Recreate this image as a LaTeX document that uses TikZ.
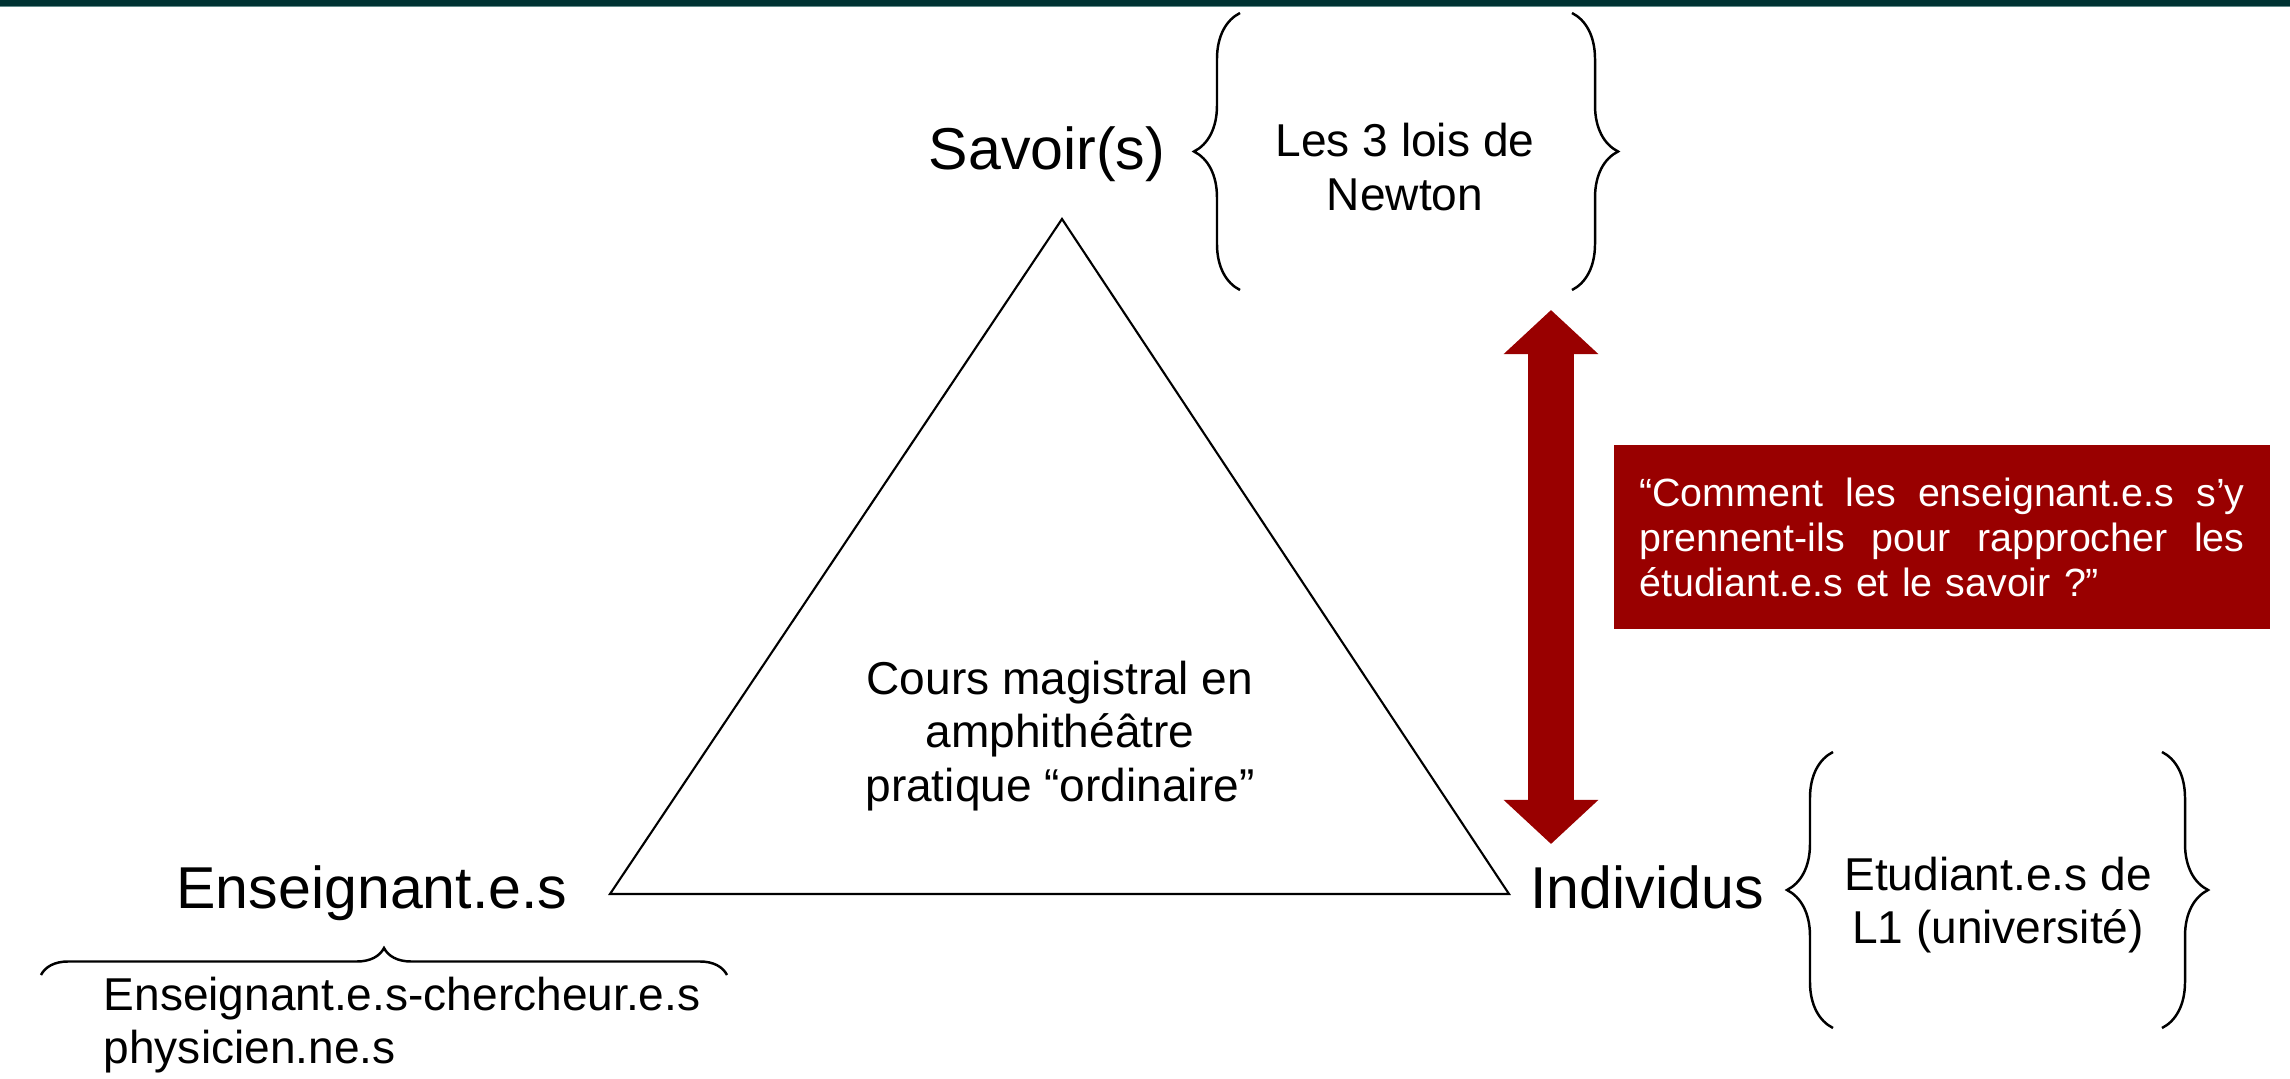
\documentclass[tikz,border=0pt]{standalone}
\usepackage{fontspec}
\setmainfont{Liberation Sans}
\usepackage{xcolor}
\usetikzlibrary{positioning,arrows.meta,decorations.pathreplacing}
\definecolor{barteal}{RGB}{0,51,51}
\definecolor{barline}{RGB}{100,140,140}
\definecolor{darkred}{RGB}{153,0,0}
\newcommand{\polesize}{\fontsize{16.8}{20}\selectfont}
\newcommand{\notesize}{\fontsize{13.1}{15.1}\selectfont}
\newcommand{\asksize}{\fontsize{11.2}{12.8}\selectfont}

\begin{document}
\begin{tikzpicture}[x=0.01cm,y=-0.01cm]
\tikzstyle{every node}+=[inner sep=0pt]
\tikzstyle{pole}=[font=\polesize,anchor=base]
\tikzstyle{note}=[font=\notesize,align=center]
\tikzstyle{vbrc}=[decorate,decoration={brace,amplitude=0.46cm},line width=0.7pt]
\tikzstyle{hbrc}=[decorate,decoration={brace,amplitude=0.27cm},line width=0.7pt]
\path[use as bounding box,fill=white] (0,0) rectangle (2290,1079);
\fill[barteal] (0,0) rectangle (2290,6);
\fill[barline] (0,6) rectangle (2290,7.5);
\coordinate (apex) at (1062,219);
\coordinate (left) at (610,894);
\coordinate (right) at (1509,894);
\draw[line width=0.6pt] (apex) -- (left) -- (right) -- cycle;
\node[pole] (savoir) at (1047,170) {Savoir(s)};
\node[pole] (enseignant) at (372,908) {Enseignant.e.s};
\node[pole] (individus) at (1647,908) {Individus};
\node[note] (newton) at (1405,167) {Les 3 lois de\\Newton};
\node[note] (cours) at (1060,736) {Cours magistral en\\amphithéâtre\\pratique “ordinaire”};
\node[note] (etudiants) at (1998,905) {Etudiant.e.s de\\L1 (université)};
\node[note,align=left,anchor=west] (chercheurs) at (103,1025) {Enseignant.e.s-chercheur.e.s\\physicien.ne.s};
\draw[vbrc] (1240,290) -- (1240,13);
\draw[vbrc] (1572,13) -- (1572,290);
\draw[vbrc] (1833,1028) -- (1833,752);
\draw[vbrc] (2162,752) -- (2162,1028);
\draw[hbrc] (41,975) -- (727,975);
\coordinate (up) at (1551,310);
\coordinate (down) at (1551,844);
\draw[darkred,line width=0.46cm,{Triangle[width=0.92cm,length=0.44cm]}-{Triangle[width=0.92cm,length=0.44cm]}] (up) -- (down);
\node[fill=darkred,text=white,font=\asksize,minimum width=6.55cm,minimum height=1.84cm,text width=6.05cm,align=left] (question) at (1942,537)
{“Comment\hfill les\hfill enseignant.e.s\hfill s’y\\
prennent-ils\hfill pour\hfill rapprocher\hfill les\\
étudiant.e.s et le savoir ?”};
\end{tikzpicture}
\end{document}
